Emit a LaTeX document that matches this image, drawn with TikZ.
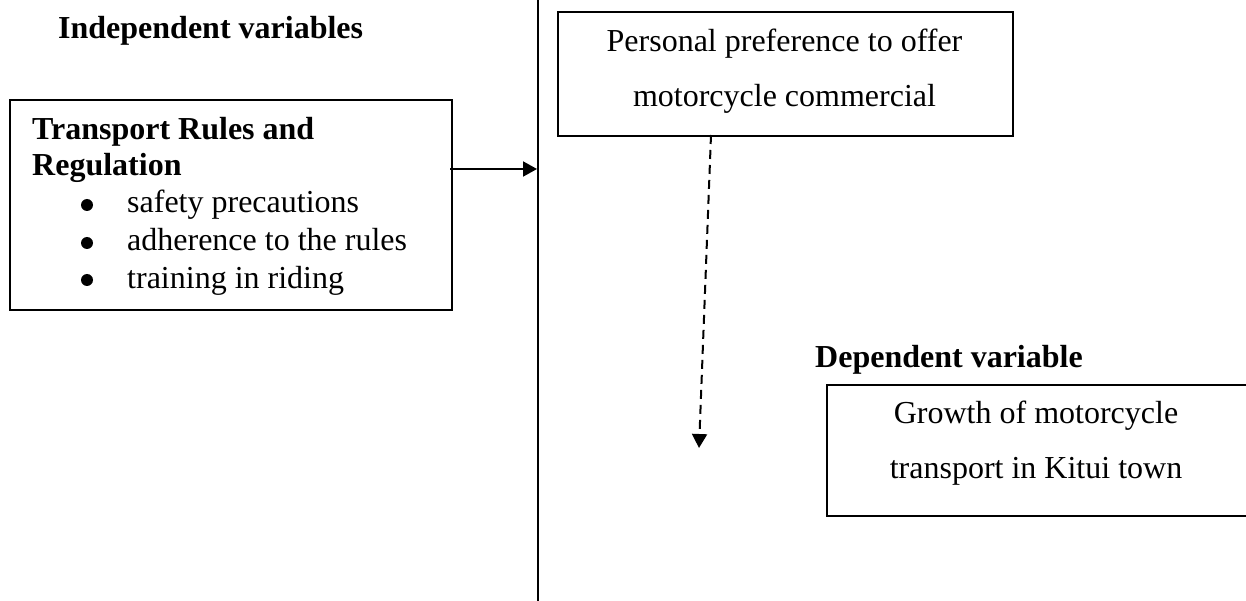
\documentclass[tikz,border=0pt]{standalone}
\usepackage{fontspec}
\setmainfont{Liberation Serif}
\usetikzlibrary{arrows.meta}
\begin{document}
\begin{tikzpicture}[x=1pt,y=-1pt,
  font=\fontsize{32}{38}\selectfont,
  box/.style={draw, line width=2pt, inner sep=0pt},
  txt/.style={inner sep=0pt, anchor=base west},
  ctxt/.style={inner sep=0pt, anchor=base},
  bold/.style={font=\fontsize{32}{38}\selectfont\bfseries},
  dot/.style={circle, fill, inner sep=0pt, minimum size=12pt},
  arr/.style={line width=2pt, -{Triangle[length=14pt,width=15pt]}}]
\useasboundingbox (0,0) rectangle (1246,601);
\clip (0,0) rectangle (1246,601);
% headings
\node[txt,bold] (iv) at (58,39) {Independent variables};
\node[txt,bold] (dv) at (815,367) {Dependent variable};
% left box
\node[box, minimum width=442pt, minimum height=210pt, anchor=north west] (lb) at (9,99) {};
\node[txt,bold] (t1) at (32,140) {Transport Rules and};
\node[txt,bold] (t2) at (32,176) {Regulation};
\node[dot] (b1) at (87,205) {};
\node[dot] (b2) at (87,243) {};
\node[dot] (b3) at (87,280) {};
\node[txt] (i1) at (127,213) {safety precautions};
\node[txt] (i2) at (127,251) {adherence to the rules};
\node[txt] (i3) at (127,288) {training in riding};
% personal box
\node[box, minimum width=455pt, minimum height=124pt, anchor=north west] (pb) at (557,11) {};
\node[ctxt] (p1) at (784.5,52) {Personal preference to offer};
\node[ctxt] (p2) at (784.5,107) {motorcycle commercial};
% growth box (right side runs off the page)
\node[box, minimum width=440pt, minimum height=131pt, anchor=north west] (gb) at (826,384) {};
\node[ctxt] (g1) at (1036,423) {Growth of motorcycle};
\node[ctxt] (g2) at (1036,478) {transport in Kitui town};
% vertical divider
\coordinate (vt) at (538,-2);
\coordinate (vb) at (538,603);
\draw[line width=2pt] (vt) -- (vb);
% arrows
\coordinate (ah) at (537,169);
\draw[arr] (lb.east |- ah) ++(-3,0) -- (ah);
\coordinate (ds) at (711,135);
\coordinate (de) at (699,448);
\draw[arr, dash pattern=on 9pt off 6pt] (ds) -- (de);
\end{tikzpicture}
\end{document}
